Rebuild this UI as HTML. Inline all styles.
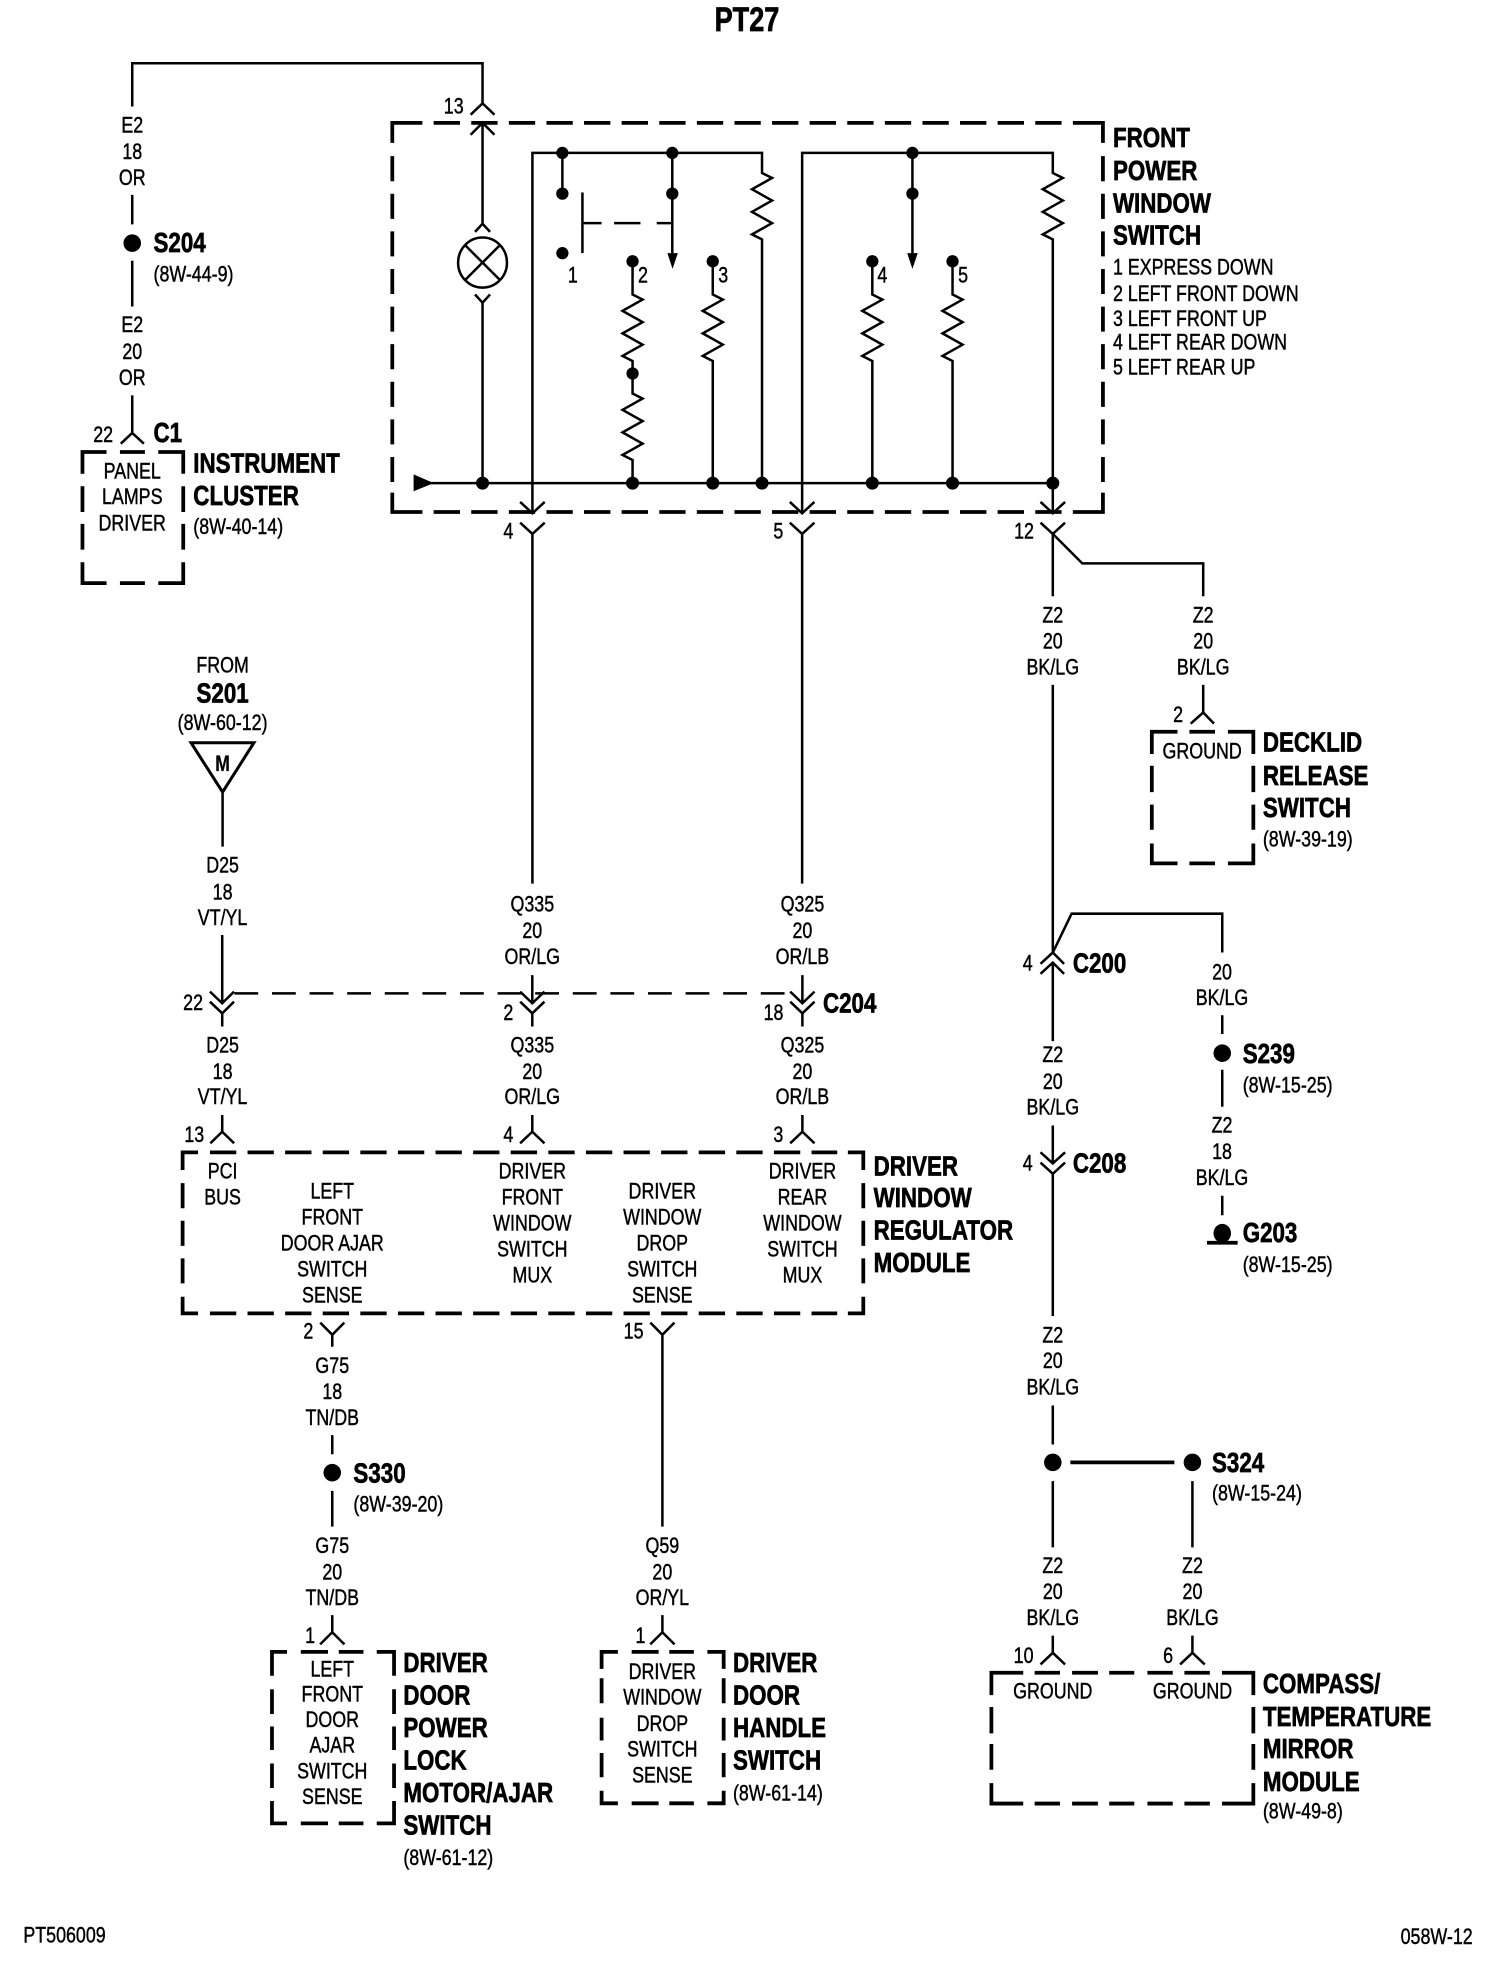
<!DOCTYPE html>
<html><head><meta charset="utf-8"><style>
html,body{margin:0;padding:0;background:#fff}
svg{display:block}
text{font-family:"Liberation Sans",Arial,sans-serif;fill:#000}
.r{font-size:17.8px;stroke:#000;stroke-width:.35}
.b{font-size:22.3px;font-weight:bold;stroke:#000;stroke-width:.55}
.m{text-anchor:middle}
.w{fill:none;stroke:#000;stroke-width:2}
.k{fill:none;stroke:#000;stroke-width:3}
.h{fill:none;stroke:#000;stroke-width:3;stroke-dasharray:21 9}
.v{fill:none;stroke:#000;stroke-width:3;stroke-dasharray:20 10}
.t{fill:none;stroke:#000;stroke-width:2;stroke-dasharray:19 11}
</style></head><body>
<svg xmlns="http://www.w3.org/2000/svg" width="1504" height="1966" viewBox="0 0 1200 1568.6" preserveAspectRatio="none">
<rect width="1200" height="1568.6" fill="#fff"/>

<!-- top wire and lamp -->
<path class="w" d="M105.5,85V50.5H385V83M385,98V178M385,241V385.5"/>
<path class="w" d="M375.5,91.5L385,82.5L394.5,91.5M375.5,107.5L385,98L394.5,107.5M379,185L385,178.5L391,185M379,235L385,241.5L391,235"/>
<ellipse class="w" cx="385" cy="209.5" rx="19.5" ry="20"/>
<path class="w" d="M371,195.5L399,223.5M399,195.5L371,223.5"/>

<!-- front power window switch box -->
<path class="k" d="M313,114V98H337M856,98H880V114M880,393V408.5H856M337,408.5H313V393"/>
<path class="h" d="M346,98H850M346,408.5H850"/>
<path class="v" d="M313,124.6V385M880,124.6V385"/>

<!-- internals -->
<path class="w" d="M335,385.5H840"/>
<polygon points="330,378.5 330,392 346,385.5"/>
<path class="w" d="M424.8,410V122H608V138L616,142L600,151L616,160L600,169L616,178L600,187L608,191V385.5"/>
<path class="w" d="M640,410V122H840V138L848,142L832,151L848,160L832,169L848,178L832,187L840,191V409"/>
<path class="w" d="M448.7,122V154.5M536.4,122V204M728,122V204"/>
<polygon points="532.5,202 540.8,202 536.6,214.5"/>
<polygon points="723.8,202 732.2,202 728,214.5"/>
<path class="w" d="M464.7,153.6V202M465,178H480M490,178H511M524,178H536"/>
<path class="w" d="M504.7,208.5V235L512.7,239L496.7,248L512.7,257L496.7,266L512.7,275L496.7,284L504.7,288V298V314L512.7,318L496.7,327L512.7,336L496.7,345L512.7,354L496.7,363L504.7,367V385.5"/>
<path class="w" d="M568.7,208.5V235L576.7,239L560.7,248L576.7,257L560.7,266L576.7,275L560.7,284L568.7,288V385.5"/>
<path class="w" d="M696,208.5V235L704,239L688,248L704,257L688,266L704,275L688,284L696,288V385.5"/>
<path class="w" d="M760,208.5V235L768,239L752,248L768,257L752,266L768,275L752,284L760,288V385.5"/>
<g>
<circle cx="448.7" cy="122" r="4.9"/><circle cx="536.4" cy="122" r="4.9"/><circle cx="728" cy="122" r="4.9"/>
<circle cx="448.7" cy="154.5" r="4.9"/><circle cx="536.4" cy="154.5" r="4.9"/><circle cx="728" cy="154.5" r="4.9"/>
<circle cx="448.7" cy="202" r="4.9"/>
<circle cx="504.7" cy="208.5" r="4.9"/><circle cx="568.7" cy="208.5" r="4.9"/><circle cx="696" cy="208.5" r="4.9"/><circle cx="760" cy="208.5" r="4.9"/>
<circle cx="504.7" cy="298" r="4.9"/>
<circle cx="385" cy="385.5" r="5.2"/><circle cx="504.7" cy="385.5" r="5.2"/><circle cx="568.7" cy="385.5" r="5.2"/><circle cx="608" cy="385.5" r="5.2"/><circle cx="696" cy="385.5" r="5.2"/><circle cx="760" cy="385.5" r="5.2"/><circle cx="840" cy="385.5" r="5.2"/>
</g>
<!-- bottom connectors of switch -->
<path class="w" d="M415,400.5L424.8,409.5L434.6,400.5M415,417L424.8,426L434.6,417M424.8,426V705"/>
<path class="w" d="M630.2,400.5L640,409.5L649.8,400.5M630.2,417L640,426L649.8,417M640,426V705"/>
<path class="w" d="M830.2,400.5L840,409.5L849.8,400.5M830.2,417L840,426L849.8,417M840,426V475.7M840,426L863.5,449.5H960V475.7"/>

<!-- left side -->
<path class="w" d="M105.5,155.5V179M105.5,208V244.5M105.5,315.5V345.4M96.4,354L105.5,345.4L114.8,354"/>
<circle cx="105.5" cy="194" r="7"/>
<path class="k" d="M65.8,378V360.6H85M126.3,360.6H146.2V378M146.2,448.6V465.3H126.3M85,465.3H65.8V448.6M95.7,360.6H115.6M95.7,465.3H115.6M65.8,388V408.5M65.8,418V438.5M146.2,388V408.5M146.2,418V438.5"/>

<!-- S201 feed -->
<polygon points="152.4,592.6 202.6,592.6 177.6,632" fill="none" stroke="#000" stroke-width="2.4"/>
<path class="w" d="M177.6,632V675.5M177.3,746V800M167.5,791.2L177.3,800.5L186.7,791.2M167.5,799.2L177.3,808.5L186.7,799.2M177.3,808.5V819"/>
<path class="t" d="M187,792.6H632"/>
<path class="w" d="M424.7,778V800M415,791.2L424.7,800.5L434.4,791.2M415,799.2L424.7,808.5L434.4,799.2M424.7,808.5V819"/>
<path class="w" d="M640.2,778V800M630.5,791.2L640.2,800.5L649.9,791.2M630.5,799.2L640.2,808.5L649.9,799.2M640.2,808.5V819"/>
<path class="w" d="M177.3,889.6V903M167.8,912.2L177.3,903L186.8,912.2M424.7,889.6V903M415,912.2L424.7,903L434.4,912.2M640.2,889.6V903M630.5,912.2L640.2,903L649.9,912.2"/>

<!-- driver window regulator module -->
<path class="k" d="M145.7,933.5V919.4H158M676.5,919.4H688.8V933.5M688.8,1034.6V1047.9H676.5M158,1047.9H145.7V1034.6"/>
<path class="h" d="M167.5,919.4H668M167.5,1047.9H668"/>
<path class="v" d="M145.7,944V1026M688.8,944V1026"/>
<path class="w" d="M255.5,1055.3L265.1,1065L274.7,1055.3M265.1,1065V1074.5"/>
<path class="w" d="M518.9,1055.3L528.5,1065L538.1,1055.3M528.5,1065V1218"/>

<!-- S330 -->
<path class="w" d="M265.1,1145V1160.3M265.1,1189.5V1218M265.1,1288.6V1302.3M255.4,1312L265.1,1302.3L274.8,1312"/>
<circle cx="265.1" cy="1175" r="7"/>
<path class="w" d="M528.5,1288.6V1302.3M518.8,1312L528.5,1302.3L538.2,1312"/>
<path class="k" d="M217,1337V1318H229M300.6,1318H314.4V1337M314.4,1437V1454.8H300.6M229,1454.8H217V1437M240,1318H261.7M270.3,1318H290M240,1454.8H261.7M270.3,1454.8H290M217,1347.8V1367.5M217,1377.5V1396.3M217,1407V1426.6M314.4,1347.8V1367.5M314.4,1377.5V1396.3M314.4,1407V1426.6"/>
<path class="k" d="M480,1331.5V1318H493M564.4,1318H577.4V1331.5M577.4,1428.8V1438.8H564.4M493,1438.8H480V1428.8M504,1318H525.5M534,1318H553.6M504,1438.8H525.5M534,1438.8H553.6M480,1339V1359M480,1370.5V1388.7M480,1398.7V1418M577.4,1339V1359M577.4,1370.5V1388.7M577.4,1398.7V1418"/>

<!-- right side -->
<path class="w" d="M840,546.4V760M840,760L855,729H975.2V760M830.2,769L840,760L849,769M830.2,777L840,768L849,777M840,768V830.7"/>
<path class="w" d="M960,546.4V568.5M950,577.4L960,568.5L968.6,577.4"/>
<path class="k" d="M919,601.6V583.8H939.5M979.7,583.8H1000V601.6M1000,673V688.9H979.7M939.5,688.9H919V673M949,583.8H969.4M949,688.9H969.4M919,611V632M919,642V662M1000,611V632M1000,642V662"/>
<path class="w" d="M975.2,810V825M975.2,853.5V883M975.2,954V969.6"/>
<circle cx="975.2" cy="840.3" r="7"/>
<ellipse cx="975.2" cy="984" rx="7" ry="7.5"/>
<path class="k" d="M963,991.5H987.5"/>
<path class="w" d="M840,898V928M830.2,919.4L840,928.3L849.8,919.4M830.2,927.6L840,936.5L849.8,927.6M840,936.5V1050M840,1121.4V1152.5M840,1181.7V1234.6M951.4,1181.7V1234.6"/>
<circle cx="840" cy="1166.8" r="7"/><circle cx="951.4" cy="1166.8" r="7"/>
<path class="k" d="M854,1166.8H937"/>
<path class="w" d="M840,1305V1318.7M830.2,1328L840,1318.7L849.8,1328M951.4,1305V1318.7M941.6,1328L951.4,1318.7L961.2,1328"/>
<path class="k" d="M791,1352.5V1334.6H816.4M975,1334.6H1000V1352.5M1000,1422.7V1439H975M816.4,1439H791V1422.7M825.5,1334.6H845.7M855.4,1334.6H876M885,1334.6H905M915.5,1334.6H935.7M945,1334.6H965.3M825.5,1439H845.7M855.4,1439H876M885,1439H905M915.5,1439H935.7M945,1439H965.3M791,1362V1383M791,1391.5V1412M1000,1362V1383M1000,1391.5V1412"/>

<g transform="scale(.8 1)">
<text class="b m" x="745" y="24.6" style="font-size:27px">PT27</text>

<text class="r m" x="131.9" y="105.7">E2</text><text class="r m" x="131.9" y="127">18</text><text class="r m" x="131.9" y="147.6">OR</text>
<text class="b" x="153.1" y="201">S204</text><text class="r" x="153.1" y="224.6">(8W-44-9)</text>
<text class="r m" x="131.9" y="265">E2</text><text class="r m" x="131.9" y="286.4">20</text><text class="r m" x="131.9" y="307">OR</text>
<text class="r m" x="102.9" y="352.7">22</text><text class="b" x="153.1" y="352.7">C1</text>
<text class="r m" x="131.9" y="381.7">PANEL</text><text class="r m" x="131.9" y="402.2">LAMPS</text><text class="r m" x="131.9" y="423.3">DRIVER</text>
<text class="b" x="192.8" y="377">INSTRUMENT</text><text class="b" x="192.8" y="403">CLUSTER</text><text class="r" x="192.8" y="425.9">(8W-40-14)</text>

<text class="r m" x="452.5" y="90.5">13</text>
<text class="r m" x="571.3" y="225.5">1</text>
<text class="r" x="636.3" y="225.5">2</text><text class="r" x="716.3" y="225.5">3</text><text class="r" x="875" y="225.5">4</text><text class="r" x="955.6" y="225.5">5</text>
<text class="b" x="1110" y="117.4">FRONT</text><text class="b" x="1110" y="143.5">POWER</text><text class="b" x="1110" y="169.4">WINDOW</text><text class="b" x="1110" y="195">SWITCH</text>
<text class="r" x="1110" y="219.2">1 EXPRESS DOWN</text><text class="r" x="1110" y="240">2 LEFT FRONT DOWN</text><text class="r" x="1110" y="260">3 LEFT FRONT UP</text><text class="r" x="1110" y="279">4 LEFT REAR DOWN</text><text class="r" x="1110" y="298.7">5 LEFT REAR UP</text>
<text class="r m" x="507" y="429.6">4</text><text class="r m" x="776.3" y="429.6">5</text><text class="r m" x="1021.3" y="429.6">12</text>

<text class="r m" x="222" y="536.7">FROM</text><text class="b m" x="222" y="560.7">S201</text><text class="r m" x="222" y="582.5">(8W-60-12)</text>
<text class="b m" x="222" y="615" style="font-size:17.5px;stroke-width:.2">M</text>
<text class="r m" x="222" y="696.3">D25</text><text class="r m" x="222" y="717.6">18</text><text class="r m" x="222" y="738">VT/YL</text>

<text class="r m" x="530.9" y="727.3">Q335</text><text class="r m" x="530.9" y="748.3">20</text><text class="r m" x="530.9" y="769.3">OR/LG</text>
<text class="r m" x="800.3" y="727.3">Q325</text><text class="r m" x="800.3" y="748.3">20</text><text class="r m" x="800.3" y="769.3">OR/LB</text>
<text class="r m" x="192.6" y="805.9">22</text><text class="r m" x="507" y="813.8">2</text><text class="r m" x="771.5" y="813.8">18</text>
<text class="b" x="820.8" y="807.7">C204</text>
<text class="r m" x="222" y="839.9">D25</text><text class="r m" x="222" y="861">18</text><text class="r m" x="222" y="880.9">VT/YL</text>
<text class="r m" x="530.9" y="839.9">Q335</text><text class="r m" x="530.9" y="861">20</text><text class="r m" x="530.9" y="880.9">OR/LG</text>
<text class="r m" x="800.3" y="839.9">Q325</text><text class="r m" x="800.3" y="861">20</text><text class="r m" x="800.3" y="880.9">OR/LB</text>
<text class="r m" x="193.8" y="911">13</text><text class="r m" x="507" y="911">4</text><text class="r m" x="776.3" y="911">3</text>

<text class="r m" x="222" y="940.2">PCI</text><text class="r m" x="222" y="961">BUS</text>
<text class="r m" x="331.4" y="956.1">LEFT</text><text class="r m" x="331.4" y="976.9">FRONT</text><text class="r m" x="331.4" y="997.6">DOOR AJAR</text><text class="r m" x="331.4" y="1018.6">SWITCH</text><text class="r m" x="331.4" y="1039.4">SENSE</text>
<text class="r m" x="530.9" y="940.2">DRIVER</text><text class="r m" x="530.9" y="961">FRONT</text><text class="r m" x="530.9" y="981.7">WINDOW</text><text class="r m" x="530.9" y="1002.7">SWITCH</text><text class="r m" x="530.9" y="1023.4">MUX</text>
<text class="r m" x="660.5" y="956.1">DRIVER</text><text class="r m" x="660.5" y="976.9">WINDOW</text><text class="r m" x="660.5" y="997.6">DROP</text><text class="r m" x="660.5" y="1018.6">SWITCH</text><text class="r m" x="660.5" y="1039.4">SENSE</text>
<text class="r m" x="800.3" y="940.2">DRIVER</text><text class="r m" x="800.3" y="961">REAR</text><text class="r m" x="800.3" y="981.7">WINDOW</text><text class="r m" x="800.3" y="1002.7">SWITCH</text><text class="r m" x="800.3" y="1023.4">MUX</text>
<text class="b" x="871.3" y="938">DRIVER</text><text class="b" x="871.3" y="963">WINDOW</text><text class="b" x="871.3" y="989">REGULATOR</text><text class="b" x="871.3" y="1015">MODULE</text>

<text class="r m" x="307.5" y="1067.8">2</text><text class="r m" x="631.9" y="1067.8">15</text>
<text class="r m" x="331.4" y="1095.3">G75</text><text class="r m" x="331.4" y="1116.4">18</text><text class="r m" x="331.4" y="1137">TN/DB</text>
<text class="b" x="352.5" y="1183">S330</text><text class="r" x="352.5" y="1206">(8W-39-20)</text>
<text class="r m" x="331.4" y="1239.2">G75</text><text class="r m" x="331.4" y="1260.4">20</text><text class="r m" x="331.4" y="1280.4">TN/DB</text>
<text class="r m" x="309.3" y="1310.8">1</text>
<text class="r m" x="331.4" y="1337.5">LEFT</text><text class="r m" x="331.4" y="1357.5">FRONT</text><text class="r m" x="331.4" y="1378">DOOR</text><text class="r m" x="331.4" y="1398.4">AJAR</text><text class="r m" x="331.4" y="1419">SWITCH</text><text class="r m" x="331.4" y="1439.4">SENSE</text>
<text class="b" x="402.3" y="1334">DRIVER</text><text class="b" x="402.3" y="1360">DOOR</text><text class="b" x="402.3" y="1385.7">POWER</text><text class="b" x="402.3" y="1412">LOCK</text><text class="b" x="402.3" y="1437.9">MOTOR/AJAR</text><text class="b" x="402.3" y="1463.6">SWITCH</text><text class="r" x="402.3" y="1488.2">(8W-61-12)</text>

<text class="r m" x="660.6" y="1239.2">Q59</text><text class="r m" x="660.6" y="1260.4">20</text><text class="r m" x="660.6" y="1280.4">OR/YL</text>
<text class="r m" x="638.8" y="1310.8">1</text>
<text class="r m" x="660.6" y="1339.6">DRIVER</text><text class="r m" x="660.6" y="1360">WINDOW</text><text class="r m" x="660.6" y="1381">DROP</text><text class="r m" x="660.6" y="1401.5">SWITCH</text><text class="r m" x="660.6" y="1422">SENSE</text>
<text class="b" x="731" y="1334">DRIVER</text><text class="b" x="731" y="1360">DOOR</text><text class="b" x="731" y="1385.7">HANDLE</text><text class="b" x="731" y="1412">SWITCH</text><text class="r" x="731" y="1436.7">(8W-61-14)</text>

<text class="r m" x="1050" y="496.8">Z2</text><text class="r m" x="1050" y="517.6">20</text><text class="r m" x="1050" y="538.3">BK/LG</text>
<text class="r m" x="1200" y="496.8">Z2</text><text class="r m" x="1200" y="517.6">20</text><text class="r m" x="1200" y="538.3">BK/LG</text>
<text class="r m" x="1175" y="576">2</text><text class="r m" x="1199" y="605.2">GROUND</text>
<text class="b" x="1259.5" y="599.8">DECKLID</text><text class="b" x="1259.5" y="626.5">RELEASE</text><text class="b" x="1259.5" y="652">SWITCH</text><text class="r" x="1259.5" y="675.4">(8W-39-19)</text>
<text class="r m" x="1025" y="774.4">4</text><text class="b" x="1070" y="776">C200</text>
<text class="r m" x="1218.8" y="781.5">20</text><text class="r m" x="1218.8" y="802">BK/LG</text>
<text class="b" x="1239.4" y="848">S239</text><text class="r" x="1239.4" y="871.6">(8W-15-25)</text>
<text class="r m" x="1218.8" y="903.4">Z2</text><text class="r m" x="1218.8" y="924.7">18</text><text class="r m" x="1218.8" y="945.4">BK/LG</text>
<text class="b" x="1239.4" y="991">G203</text><text class="r" x="1239.4" y="1015">(8W-15-25)</text>
<text class="r m" x="1050" y="847.4">Z2</text><text class="r m" x="1050" y="868.8">20</text><text class="r m" x="1050" y="889.4">BK/LG</text>
<text class="r m" x="1025" y="934">4</text><text class="b" x="1070" y="935.4">C208</text>
<text class="r m" x="1050" y="1071">Z2</text><text class="r m" x="1050" y="1091.5">20</text><text class="r m" x="1050" y="1112.5">BK/LG</text>
<text class="b" x="1208.8" y="1174.6">S324</text><text class="r" x="1208.8" y="1197.3">(8W-15-24)</text>
<text class="r m" x="1050" y="1255">Z2</text><text class="r m" x="1050" y="1275.6">20</text><text class="r m" x="1050" y="1296.6">BK/LG</text>
<text class="r m" x="1189.3" y="1255">Z2</text><text class="r m" x="1189.3" y="1275.6">20</text><text class="r m" x="1189.3" y="1296.6">BK/LG</text>
<text class="r m" x="1020.9" y="1327">10</text><text class="r m" x="1165" y="1327">6</text>
<text class="r m" x="1050" y="1355.3">GROUND</text><text class="r m" x="1189.3" y="1355.3">GROUND</text>
<text class="b" x="1259.5" y="1350.9">COMPASS/</text><text class="b" x="1259.5" y="1377">TEMPERATURE</text><text class="b" x="1259.5" y="1402.7">MIRROR</text><text class="b" x="1259.5" y="1428.8">MODULE</text><text class="r" x="1259.5" y="1450.9">(8W-49-8)</text>

<text class="r" x="23.3" y="1550">PT506009</text>
<text class="r" x="1396.9" y="1550.9">058W-12</text>
</g>
</svg>
</body></html>
